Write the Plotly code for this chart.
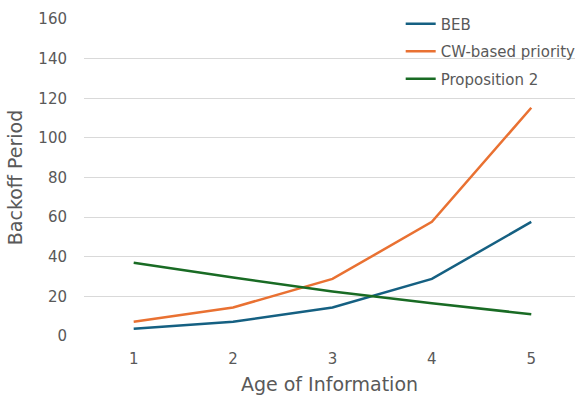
import plotly.graph_objects as go

# Age of information (x) and backoff period per scheme
age = [1, 2, 3, 4, 5]
beb = [3.6, 7.2, 14.4, 28.8, 57.6]
cw_priority = [7.2, 14.4, 28.8, 57.6, 115.2]
proposition2 = [37, 29.5, 22.5, 16.5, 11]

series = [
    ("BEB", beb, "#156082"),
    ("CW-based priority", cw_priority, "#E97132"),
    ("Proposition 2", proposition2, "#196B24"),
]

font_family = "DejaVu Sans"
text_color = "#595959"

fig = go.Figure()
for i, (name, values, color) in enumerate(series):
    fig.add_trace(go.Scatter(
        x=age, y=values, name=name, mode="lines",
        line=dict(color=color, width=2.5),
        legendgroup=f"g{i}",
    ))

fig.update_layout(
    width=575, height=396,
    margin=dict(l=84, r=0, t=19, b=60, autoexpand=False),
    plot_bgcolor="white", paper_bgcolor="white",
    font=dict(family=font_family, color=text_color),
    showlegend=True,
    legend=dict(
        x=0.645, y=1.036, xanchor="left", yanchor="top",
        bgcolor="rgba(0,0,0,0)", borderwidth=0,
        font=dict(size=15, color=text_color, family=font_family),
        tracegroupgap=5,
    ),
    xaxis=dict(
        range=[0.5, 5.44], tickvals=age, ticktext=[str(a) for a in age],
        showgrid=False, zeroline=False, showline=False,
        tickfont=dict(size=15, color=text_color),
        ticks="", ticklabelstandoff=12,
        title=dict(text="Age of Information", font=dict(size=19, color=text_color), standoff=10),
    ),
    yaxis=dict(
        range=[0, 160], dtick=20,
        showgrid=True, gridcolor="#d9d9d9", gridwidth=1,
        zeroline=False, showline=False,
        tickfont=dict(size=15, color=text_color),
        ticks="", ticklabelstandoff=16,
        title=dict(text="Backoff Period", font=dict(size=19, color=text_color), standoff=10),
    ),
)

fig.write_html("out.html")
